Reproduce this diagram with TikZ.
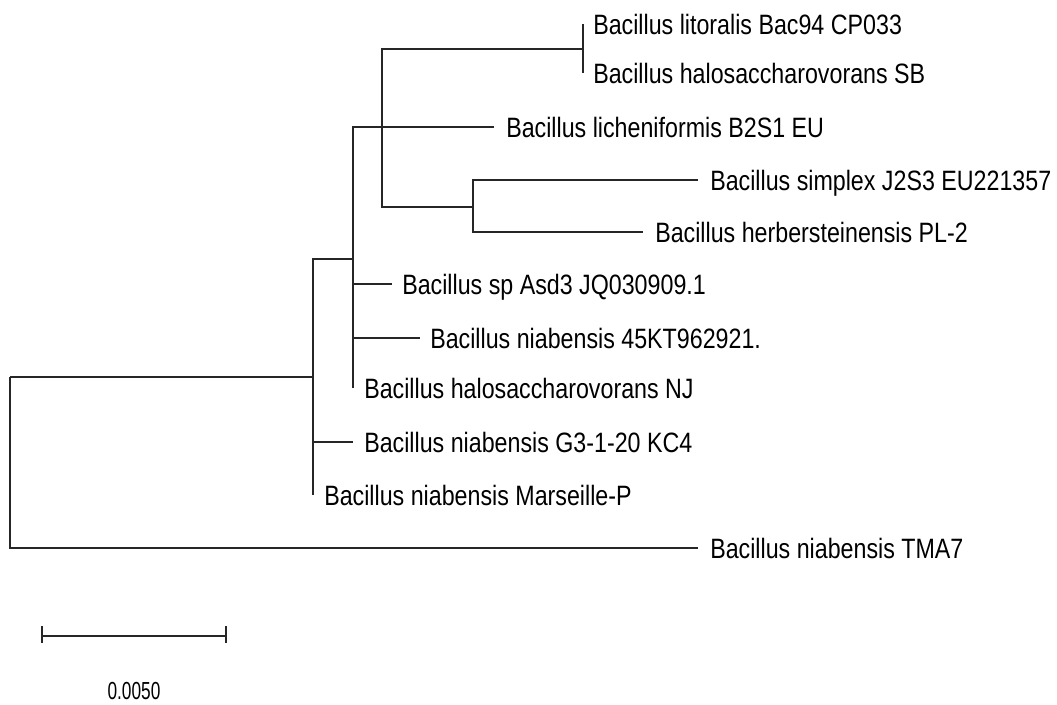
\documentclass[tikz,border=0pt]{standalone}
\usepackage{fontspec}
\usepackage{tikz}
\usetikzlibrary{positioning}
\newfontfamily\treefont[FakeStretch=0.83]{Liberation Sans}
\newfontfamily\barfont[FakeStretch=0.7]{Liberation Sans}

\begin{document}
\begin{tikzpicture}[
  x=0.75pt, y=-0.75pt,
  branch/.style={draw=black!85, line width=1.4pt},
  leaf/.style={anchor=base west, inner sep=0pt, font=\treefont\fontsize{21}{24}\selectfont},
]
  \useasboundingbox (0,0) rectangle (1057,704);

  % tips
  \coordinate (t1)  at (583,24);
  \coordinate (t2)  at (583,73);
  \coordinate (t3)  at (494,127);
  \coordinate (t4)  at (698,180);
  \coordinate (t5)  at (643,232);
  \coordinate (t6)  at (392,284);
  \coordinate (t7)  at (420,338);
  \coordinate (t8)  at (353,388);
  \coordinate (t9)  at (353,442);
  \coordinate (t10) at (313,495);
  \coordinate (t11) at (698,548);

  % inner nodes
  \coordinate (r)  at (10,377);
  \coordinate (n1) at (313,377);
  \coordinate (n2) at (353,259);
  \coordinate (n3) at (382,127);
  \coordinate (n4) at (583,49);
  \coordinate (n5) at (473,207);

  \draw[branch] (r) -- (n1) (r) |- (t11);
  \draw[branch] (n1) |- (n2) (n1) |- (t9) (n1) |- (t10);
  \draw[branch] (n2) |- (n3) (n2) |- (t6) (n2) |- (t7) (n2) |- (t8);
  \draw[branch] (n3) |- (n4) (n3) -- (t3) (n3) |- (n5);
  \draw[branch] (n4) |- (t1) (n4) |- (t2);
  \draw[branch] (n5) |- (t4) (n5) |- (t5);

  \node[leaf] (l1)  at (593,34)  {Bacillus litoralis Bac94 CP033};
  \node[leaf] (l2)  at (593,83)  {Bacillus halosaccharovorans SB};
  \node[leaf] (l3)  at (506,137) {Bacillus licheniformis B2S1 EU};
  \node[leaf] (l4)  at (710,190) {Bacillus simplex J2S3 EU221357};
  \node[leaf] (l5)  at (655,242) {Bacillus herbersteinensis PL-2};
  \node[leaf] (l6)  at (402,294) {Bacillus sp Asd3 JQ030909.1};
  \node[leaf] (l7)  at (430,348) {Bacillus niabensis 45KT962921.};
  \node[leaf] (l8)  at (364,398) {Bacillus halosaccharovorans NJ};
  \node[leaf] (l9)  at (364,452) {Bacillus niabensis G3-1-20 KC4};
  \node[leaf] (l10) at (324,505) {Bacillus niabensis Marseille-P};
  \node[leaf] (l11) at (710,558) {Bacillus niabensis TMA7};

  % scale bar
  \coordinate (s0) at (42,636);
  \coordinate (s1) at (226,636);
  \draw[branch] (s0) -- (s1);
  \draw[branch] ([yshift=7.5]s0) -- ([yshift=-5.5]s0);
  \draw[branch] ([yshift=7.5]s1) -- ([yshift=-5.5]s1);
  \node[anchor=base, inner sep=0pt, font=\barfont\fontsize{18.5}{20}\selectfont] (sb) at (134,699) {0.0050};
\end{tikzpicture}
\end{document}
